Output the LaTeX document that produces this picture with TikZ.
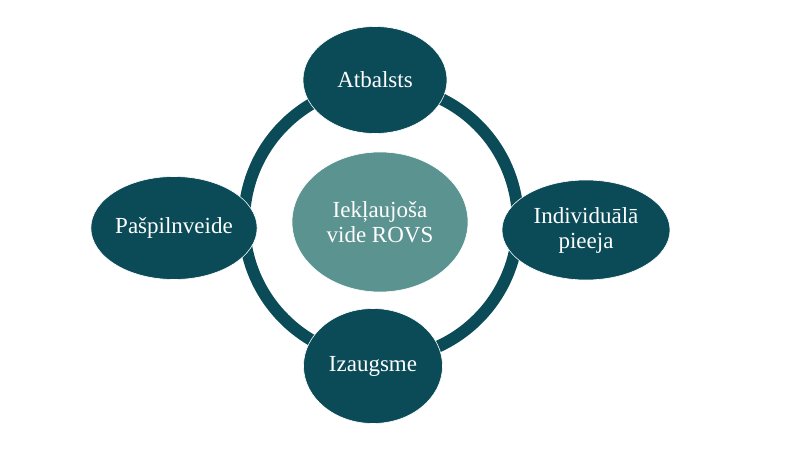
\documentclass[tikz,border=0pt]{standalone}
\usepackage{fontspec}
\setmainfont{Liberation Serif}
\usetikzlibrary{shapes.geometric}
\definecolor{petrol}{HTML}{0B4B58}
\definecolor{sage}{HTML}{5B9391}
\tikzset{
	bubble/.style={ellipse, fill=petrol, draw=white, line width=0.6pt, text=white,
		inner sep=0pt, align=center, font=\fontsize{23}{25}\selectfont},
	ring/.style={draw=petrol, line width=12pt},
}

\begin{document}
\begin{tikzpicture}[x=1pt, y=-1pt]
		\useasboundingbox (0,0) rectangle (800,450);

		\coordinate (mid) at (381,222);
		\draw[ring] (mid) circle[radius=137pt];

		\node[bubble, fill=sage, minimum width=176pt, minimum height=140pt] (core) at (380,222) {Iekļaujoša\\vide ROVS};

		\node[bubble, minimum width=144pt, minimum height=107pt] (atbalsts) at (375,80) {Atbalsts};
		\node[bubble, minimum width=168pt, minimum height=100pt] (pieeja) at (586,230) {Individuālā\\pieeja};
		\node[bubble, minimum width=139pt, minimum height=115pt] (izaugsme) at (373,366) {Izaugsme};
		\node[bubble, minimum width=164pt, minimum height=103pt] (pasp) at (174,228) {Pašpilnveide};
	\end{tikzpicture}
\end{document}
